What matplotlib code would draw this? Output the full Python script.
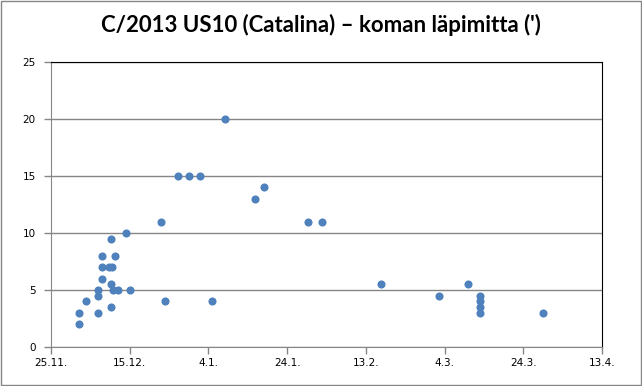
import matplotlib
matplotlib.use("Agg")
import matplotlib.pyplot as plt
import pandas as pd
from matplotlib.patches import Rectangle

dates = [
    "2015-12-02 00:00", "2015-12-02 00:00", "2015-12-04 00:00",
    "2015-12-07 00:00", "2015-12-07 00:00", "2015-12-07 00:00",
    "2015-12-08 00:00", "2015-12-08 00:00", "2015-12-08 00:00",
    "2015-12-09 19:00", "2015-12-10 12:00",
    "2015-12-10 05:00", "2015-12-10 05:00", "2015-12-10 05:00",
    "2015-12-11 07:00", "2015-12-10 19:00", "2015-12-12 00:00",
    "2015-12-14 00:00", "2015-12-15 00:00",
    "2015-12-23 00:00", "2015-12-24 00:00",
    "2015-12-27 07:00", "2015-12-30 02:00", "2016-01-01 22:00",
    "2016-01-04 19:00", "2016-01-08 05:00",
    "2016-01-15 17:00", "2016-01-18 00:00",
    "2016-01-29 05:00", "2016-02-01 19:00",
    "2016-02-16 19:00", "2016-03-02 17:00", "2016-03-09 22:00",
    "2016-03-13 00:00", "2016-03-13 00:00", "2016-03-13 00:00", "2016-03-13 00:00",
    "2016-03-28 22:00",
]
diam = [
    3, 2, 4,
    5, 4.5, 3,
    6, 7, 8,
    7, 7,
    9.5, 5.5, 3.5,
    8, 5, 5,
    10, 5,
    11, 4,
    15, 15, 15,
    4, 20,
    13, 14,
    11, 11,
    5.5, 4.5, 5.5,
    4.5, 4, 3.5, 3,
    3,
]
x_ticks = ["2015-11-25", "2015-12-15", "2016-01-04", "2016-01-24",
           "2016-02-13", "2016-03-04", "2016-03-24", "2016-04-13"]
x_tick_labels = ["25.11.", "15.12.", "4.1.", "24.1.", "13.2.", "4.3.", "24.3.", "13.4."]
y_ticks = [0, 5, 10, 15, 20, 25]
title = "C/2013 US10 (Catalina) \u2013 koman läpimitta (')"

fig = plt.figure(figsize=(6.42, 3.86), dpi=100)
fig.patch.set_facecolor("white")
fig.patches.append(Rectangle((0.0015, 0.0025), 0.997, 0.995, transform=fig.transFigure,
                             fill=False, edgecolor="#868686", linewidth=1.0))
ax = fig.add_axes([51/642, 39/386, 551/642, 285/386])

xd = pd.to_datetime(dates, format="%Y-%m-%d %H:%M")
ax.scatter(xd, diam, s=34, color="#4F81BD", zorder=3, linewidths=0)

xt = pd.to_datetime(x_ticks, format="%Y-%m-%d")
ax.set_xlim(xt[0], xt[-1])
ax.set_xticks(xt)
ax.set_xticklabels(x_tick_labels)
ax.set_ylim(0, 25)
ax.set_yticks(y_ticks)

ax.grid(axis="y", color="#868686", linewidth=1.0, zorder=1)
for s in ["left", "bottom"]:
    ax.spines[s].set_color("#868686")
for s in ["top", "right"]:
    ax.spines[s].set_color("black")
ax.tick_params(axis="both", colors="#868686", labelcolor="black", labelsize=7.5,
               length=5, width=1.0, direction="out")
ax.tick_params(axis="y", pad=6)
ax.tick_params(axis="x", pad=3)

fig.text(0.5, 1 - 31.7/386, title, ha="center", va="baseline", fontsize=16, fontweight="bold",
         family=["Lato", "DejaVu Sans"])

fig.savefig("out.png", dpi=100)
